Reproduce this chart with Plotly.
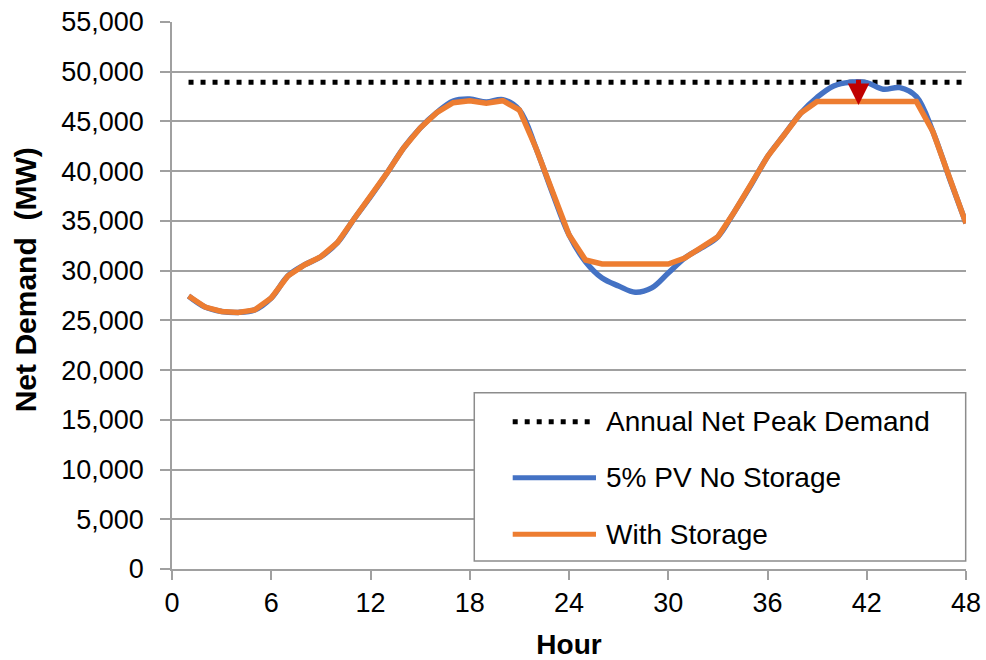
import plotly.graph_objects as go

# Hourly net demand over two days (MW)
hours = list(range(1, 49))
pv_no_storage = [
    27450, 26340, 25900, 25800, 26050, 27250, 29460, 30570, 31400, 32810,
    35190, 37440, 39820, 42330, 44340, 45880, 47050, 47250, 46950, 47200,
    46150, 42330, 37810, 33600, 30900, 29260, 28460, 27820, 28260, 29760,
    31270, 32280, 33410, 35930, 38610, 41460, 43640, 45820, 47430, 48570,
    48950, 48900, 48240, 48400, 47490, 43970, 39290, 34760,
]
with_storage = [
    27450, 26340, 25900, 25800, 26050, 27250, 29460, 30570, 31400, 32810,
    35190, 37440, 39820, 42330, 44340, 45880, 46890, 47090, 46830, 47090,
    46150, 42330, 37810, 33600, 31070, 30670, 30670, 30670, 30670, 30670,
    31270, 32280, 33410, 35930, 38610, 41460, 43640, 45820, 47000, 47000,
    47000, 47000, 47000, 47000, 47000, 43970, 39290, 34760,
]
annual_net_peak = 48950

# Peak-shaving arrow (hour, from, to)
arrow_hour = 41.5
arrow_from = 49350
arrow_to = 46650

series_names = ["Annual Net Peak Demand", "5% PV No Storage", "With Storage"]
x_ticks = [0, 6, 12, 18, 24, 30, 36, 42, 48]
y_ticks = list(range(0, 55001, 5000))

BLUE = "#4472C4"
ORANGE = "#ED7D31"
GRID = "#A0A0A0"
FONT = "Liberation Sans, Arial, sans-serif"
PEAK_DASH = "5px,7px"

fig = go.Figure()
fig.add_trace(go.Scatter(
    x=[hours[0], hours[-1]], y=[annual_net_peak, annual_net_peak],
    mode="lines", name=series_names[0], showlegend=False,
    line=dict(color="black", width=5, dash=PEAK_DASH),
))
fig.add_trace(go.Scatter(
    x=hours, y=pv_no_storage, mode="lines", name=series_names[1], showlegend=False,
    line=dict(color=BLUE, width=5.5, shape="spline", smoothing=1),
))
fig.add_trace(go.Scatter(
    x=hours, y=with_storage, mode="lines", name=series_names[2], showlegend=False,
    line=dict(color=ORANGE, width=5.5),
))

fig.add_annotation(
    x=arrow_hour, y=arrow_to, ax=arrow_hour, ay=arrow_from,
    xref="x", yref="y", axref="x", ayref="y", text="",
    showarrow=True, arrowhead=2, arrowsize=0.86, arrowwidth=5,
    arrowcolor="#C00000", standoff=0,
)

# Y-axis title, placed as rotated text beside the tick labels
fig.add_annotation(
    x=-0.185, y=0.528, xref="paper", yref="paper",
    text="<b>Net Demand\u00a0 (MW)</b>", textangle=-90, showarrow=False,
    xanchor="center", yanchor="middle",
    font=dict(family=FONT, size=30, color="black"),
)

# Legend panel
box = dict(x0=0.3807, x1=0.9996, y0=0.0146, y1=0.3223)
sample_x = (0.4291, 0.534)
text_x = 0.5441
rows_y = [0.2693, 0.1669, 0.0634]
styles = [
    dict(color="black", width=5, dash=PEAK_DASH),
    dict(color=BLUE, width=5),
    dict(color=ORANGE, width=5),
]
fig.add_shape(type="rect", xref="paper", yref="paper", layer="above",
              fillcolor="white", line=dict(color="#8C8C8C", width=1.5), **box)
for name, yy, st in zip(series_names, rows_y, styles):
    fig.add_shape(type="line", xref="paper", yref="paper", layer="above",
                  x0=sample_x[0], x1=sample_x[1], y0=yy, y1=yy, line=st)
    fig.add_annotation(x=text_x, y=yy, xref="paper", yref="paper", text=name,
                       showarrow=False, xanchor="left", yanchor="middle",
                       font=dict(family=FONT, size=28, color="black"))

fig.update_layout(
    width=986, height=660,
    margin=dict(l=172, r=20, t=22, b=91, autoexpand=False),
    paper_bgcolor="white", plot_bgcolor="white",
    font=dict(family=FONT, color="black"),
)
fig.update_xaxes(
    range=[0, 48], tickvals=x_ticks, ticktext=[str(v) for v in x_ticks],
    showgrid=False, zeroline=False, automargin=False,
    showline=True, linecolor=GRID, linewidth=1.5,
    ticks="outside", ticklen=9, tickwidth=1.5, tickcolor=GRID,
    tickfont=dict(family=FONT, size=27, color="black"),
    title=dict(text="<b>Hour</b>", font=dict(family=FONT, size=28, color="black"), standoff=20),
)
fig.update_yaxes(
    range=[0, 55000], tickvals=y_ticks, tickformat=",",
    showgrid=True, gridcolor=GRID, gridwidth=1.5, zeroline=False, automargin=False,
    showline=True, linecolor=GRID, linewidth=1.5,
    ticks="outside", ticklen=10, tickwidth=1.5, tickcolor=GRID,
    ticklabelstandoff=11,
    tickfont=dict(family=FONT, size=27, color="black"),
)

fig.write_html("out.html")
